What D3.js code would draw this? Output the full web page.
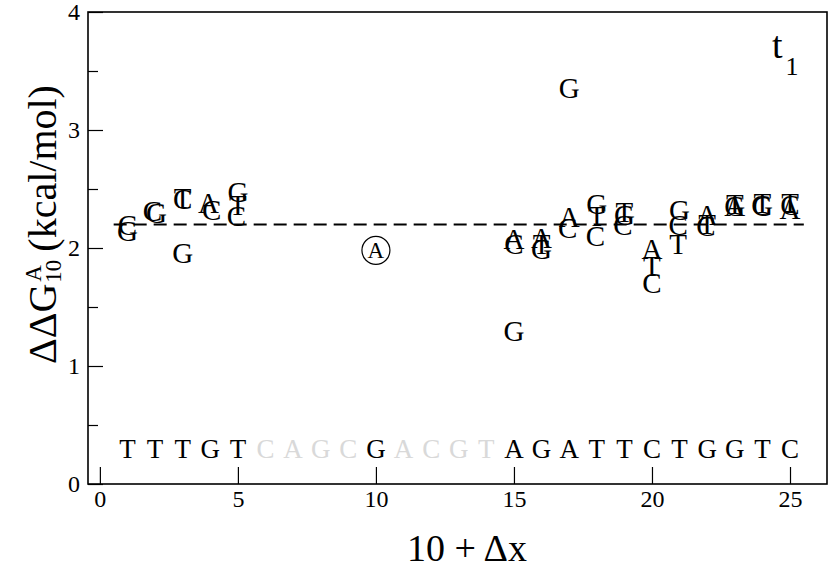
<!DOCTYPE html>
<html>
<head>
<meta charset="utf-8">
<script src="https://cdn.jsdelivr.net/npm/d3@7"></script>
<style>
  html, body { margin: 0; padding: 0; background: #fff; }
  svg { display: block; }
  text { font-family: "Liberation Serif", "Times New Roman", serif; }
</style>
</head>
<body>
<svg id="chart" width="830" height="570"></svg>
<script>
// ---- data ----
const xTicks = [0, 5, 10, 15, 20, 25];
const yTicks = [0, 1, 2, 3, 4];
const yMinorTicks = [0.5, 1.5, 2.5, 3.5];

// sequence shown along the bottom (positions 1..25)
const seqPos = d3.range(1, 26);
const seqBases = ["T","T","T","G","T","C","A","G","C","G","A","C","G","T","A","G","A","T","T","C","T","G","G","T","C"];
const seqGrey = [6, 7, 8, 9, 11, 12, 13, 14];
const seqLevel = 0.3;

// ΔΔG values: position, base, value
const pointPos  = [1, 1, 1.9, 2.05, 3, 3, 3, 3.93, 4.05, 5, 5, 4.95,
                   15, 15, 15, 16, 16, 16, 17, 16.95, 17, 18, 18, 17.95,
                   19, 19, 18.95, 20, 20, 20, 21, 20.95, 20.95, 22, 22, 21.95,
                   23, 23, 23, 24, 23.95, 24, 25, 25, 25];
const pointBase = ["C","G","C","G","T","C","G","A","C","G","T","C",
                   "A","C","G","A","T","G","A","C","G","G","T","C",
                   "T","G","C","A","T","C","G","C","T","A","T","C",
                   "T","G","A","T","C","G","T","C","A"];
const pointDG   = [2.19, 2.14, 2.31, 2.29, 2.42, 2.41, 1.95, 2.38, 2.32, 2.47, 2.36, 2.27,
                   2.07, 2.03, 1.29, 2.08, 2.03, 1.99, 2.26, 2.17, 3.35, 2.37, 2.27, 2.10,
                   2.30, 2.28, 2.19, 1.99, 1.84, 1.70, 2.32, 2.19, 2.03, 2.28, 2.20, 2.18,
                   2.37, 2.35, 2.35, 2.38, 2.36, 2.35, 2.38, 2.36, 2.33];

// the mutated base at position 10
const mutPos = [10];
const mutBase = ["A"];
const mutDG = [1.98];

const refLevel = 2.2;
const refRange = [0.5, 25.5];

// ---- layout ----
const svg = d3.select("#chart");
const pLeft = 88, pRight = 827, pTop = 12, pBottom = 484;
const x = d3.scaleLinear().domain([-0.43, 26.34]).range([pLeft, pRight]);
const y = d3.scaleLinear().domain([0, 4]).range([pBottom, pTop]);
const serif = "Liberation Serif, Times New Roman, serif";

// reference dashed line
svg.append("line")
  .attr("x1", x(refRange[0])).attr("x2", x(refRange[1]))
  .attr("y1", y(refLevel)).attr("y2", y(refLevel))
  .attr("stroke", "#000").attr("stroke-width", 2)
  .attr("stroke-dasharray", "13,7");

// axes
const xAxis = d3.axisBottom(x).tickValues(xTicks).tickSize(-17).tickPadding(8).tickFormat(d3.format("d"));
const gx = svg.append("g").attr("transform", `translate(0,${pBottom})`).call(xAxis);
gx.select(".domain").remove();
gx.selectAll("line").attr("stroke", "#000").attr("stroke-width", 1.2);
gx.selectAll("text").attr("font-size", 24).attr("fill", "#000")
  .attr("font-family", serif).attr("dy", "0.9em").attr("y", 1);

const yAxis = d3.axisLeft(y).tickValues(yTicks).tickSize(-15).tickPadding(6).tickFormat(d3.format("d"));
const gy = svg.append("g").attr("transform", `translate(${pLeft},0)`).call(yAxis);
gy.select(".domain").remove();
gy.selectAll("line").attr("stroke", "#000").attr("stroke-width", 1.2);
gy.selectAll("text").attr("font-size", 24).attr("fill", "#000")
  .attr("font-family", serif).attr("x", -8).attr("dy", "0.33em");

const yMinor = d3.axisLeft(y).tickValues(yMinorTicks).tickSize(-10).tickFormat("");
const gym = svg.append("g").attr("transform", `translate(${pLeft},0)`).call(yMinor);
gym.select(".domain").remove();
gym.selectAll("line").attr("stroke", "#000").attr("stroke-width", 1.2);

// frame
svg.append("rect").attr("x", pLeft).attr("y", pTop)
  .attr("width", pRight - pLeft).attr("height", pBottom - pTop)
  .attr("fill", "none").attr("stroke", "#000").attr("stroke-width", 1.6);

// sequence letters
svg.append("g").selectAll("text").data(seqPos).join("text")
  .attr("x", (d) => x(d)).attr("y", y(seqLevel))
  .attr("dy", "0.33em").attr("text-anchor", "middle")
  .attr("font-size", 27)
  .attr("fill", (d) => seqGrey.includes(d) ? "#d9d9d9" : "#000")
  .text((d, i) => seqBases[i]);

// data letters
svg.append("g").selectAll("text").data(pointPos).join("text")
  .attr("x", (d) => x(d)).attr("y", (d, i) => y(pointDG[i]))
  .attr("dy", "0.33em").attr("text-anchor", "middle")
  .attr("font-size", 29).attr("fill", "#000")
  .text((d, i) => pointBase[i]);

// mutated base, circled
const gm = svg.append("g");
gm.selectAll("circle").data(mutPos).join("circle")
  .attr("cx", (d) => x(d)).attr("cy", (d, i) => y(mutDG[i]))
  .attr("r", 14).attr("fill", "none").attr("stroke", "#000").attr("stroke-width", 1.2);
gm.selectAll("text").data(mutPos).join("text")
  .attr("x", (d) => x(d)).attr("y", (d, i) => y(mutDG[i]))
  .attr("dy", "0.34em").attr("text-anchor", "middle")
  .attr("font-size", 23).attr("fill", "#000")
  .text((d, i) => mutBase[i]);

// panel label t1
const tl = svg.append("text").attr("x", 772).attr("y", 58).attr("font-size", 38).attr("fill", "#000");
tl.append("tspan").text("t");
tl.append("tspan").attr("font-size", 26).attr("dy", 17).attr("dx", 3).text("1");

// x title
svg.append("text").attr("x", 467).attr("y", 561).attr("text-anchor", "middle")
  .attr("font-size", 38).attr("fill", "#000").text("10 + \u0394x");

// y title
const yt = svg.append("g").attr("transform", "translate(56,364) rotate(-90)");
const t1 = yt.append("text").attr("x", 0).attr("y", 0).attr("font-size", 40).attr("fill", "#000").text("\u0394\u0394G");
const wG = t1.node().getComputedTextLength();
yt.append("text").attr("x", wG + 2).attr("y", -15).attr("font-size", 23).attr("fill", "#000").text("A");
const sub = yt.append("text").attr("x", wG + 1).attr("y", 5).attr("font-size", 23).attr("fill", "#000").text("10");
const wSub = sub.node().getComputedTextLength();
yt.append("text").attr("x", wG + wSub + 9).attr("y", 0).attr("font-size", 40).attr("fill", "#000").text("(kcal/mol)");
</script>
</body>
</html>
